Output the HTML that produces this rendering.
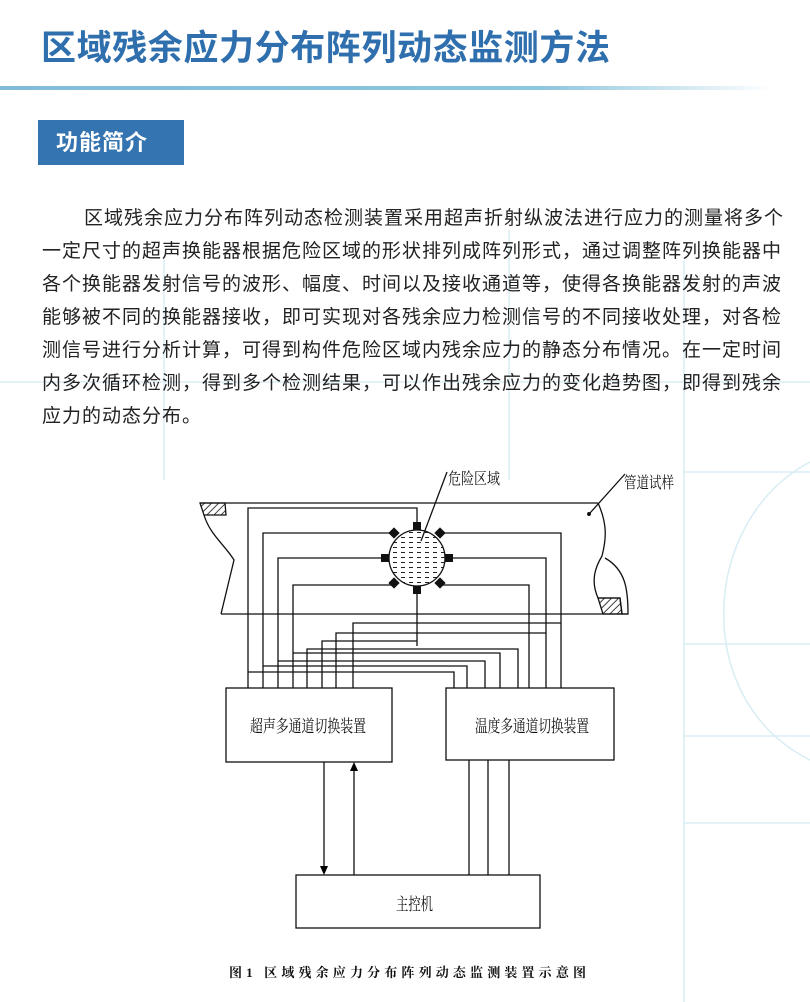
<!DOCTYPE html>
<html><head><meta charset="utf-8">
<style>
html,body{margin:0;padding:0;background:#fff;}
body{width:810px;height:1002px;position:relative;overflow:hidden;font-family:"Liberation Sans","Noto Sans CJK SC",sans-serif;}
.bg{position:absolute;left:0;top:0;}
.title{position:absolute;left:41px;top:27px;font-size:35px;font-weight:bold;color:#2f6fad;letter-spacing:0.6px;white-space:nowrap;line-height:44px;}
.rule{position:absolute;left:0;top:86px;width:775px;height:4px;background:linear-gradient(to right,#7fbcd8,#8ec6de 70%,rgba(200,230,240,0));}
.tag{position:absolute;left:38px;top:120px;width:146px;height:45px;background:#3474b0;color:#fff;font-size:22px;font-weight:bold;line-height:45px;text-indent:18px;letter-spacing:1px;}
.p{position:absolute;left:42px;top:202px;font-size:19px;letter-spacing:1px;color:#222;line-height:33px;white-space:nowrap;}
</style></head><body>
<svg class="bg" width="810" height="1002">
 <g stroke="#d8edf4" stroke-width="1.5" fill="none">
  <line x1="164" y1="260" x2="164" y2="480"/>
  <line x1="509" y1="230" x2="509" y2="480"/>
  <line x1="684" y1="260" x2="684" y2="1002"/>
  <line x1="0" y1="382" x2="810" y2="382"/>
  <line x1="684" y1="472" x2="810" y2="472"/>
  <line x1="684" y1="644" x2="810" y2="644"/>
  <line x1="684" y1="736" x2="810" y2="736"/>
  <line x1="684" y1="823" x2="810" y2="823"/>
  <path d="M810 462 C 700 520, 690 700, 810 760"/>
 </g>
</svg>
<div class="title">区域残余应力分布阵列动态监测方法</div>
<div class="rule"></div>
<div class="tag">功能简介</div>
<div class="p">
<div style="padding-left:42px">区域残余应力分布阵列动态检测装置采用超声折射纵波法进行应力的测量将多个</div>
<div>一定尺寸的超声换能器根据危险区域的形状排列成阵列形式，通过调整阵列换能器中</div>
<div>各个换能器发射信号的波形、幅度、时间以及接收通道等，使得各换能器发射的声波</div>
<div>能够被不同的换能器接收，即可实现对各残余应力检测信号的不同接收处理，对各检</div>
<div>测信号进行分析计算，可得到构件危险区域内残余应力的静态分布情况。在一定时间</div>
<div>内多次循环检测，得到多个检测结果，可以作出残余应力的变化趋势图，即得到残余</div>
<div>应力的动态分布。</div>
</div>
<svg class="bg" width="810" height="1002" style="font-family:'Liberation Serif','Noto Serif CJK SC',serif">
 <defs>
  <pattern id="h" width="5" height="5" patternUnits="userSpaceOnUse" patternTransform="rotate(45)"><line x1="0" y1="0" x2="0" y2="5" stroke="#000" stroke-width="1.5"/></pattern>
  <pattern id="d" width="8" height="5" patternUnits="userSpaceOnUse"><line x1="1" y1="2.5" x2="5" y2="2.5" stroke="#222" stroke-width="1"/></pattern>
 </defs>
 <g stroke="#111" stroke-width="1.3" fill="none">
  <line x1="200" y1="503" x2="598" y2="503"/>
  <line x1="221" y1="614" x2="628" y2="614"/>
  <path d="M200 503 L225 503 L226 515 L204 515 Z" fill="url(#h)"/>
  <path d="M204 515 C210 535,225 545,234 560 L221 614"/>
  <path d="M598 503 C608 525,606 540,602 556 C596 566,590 580,598 598 L620 598 L622 614 L628 614 C628 590,626 570,605 558"/>
  <path d="M598 598 L620 598 L622 614 L603 614 Z" fill="url(#h)"/>
  <line x1="447" y1="472" x2="421" y2="541"/>
  <line x1="625" y1="474" x2="590" y2="513"/>
  <circle cx="589" cy="514" r="1.3" fill="#000"/>
  <polyline points="417,526 417,508 248,508 248,688"/>
  <polyline points="393,533 263,533 263,688"/>
  <polyline points="384,558 278,558 278,688"/>
  <polyline points="393,585 293,585 293,688"/>
  <polyline points="441,533 561,533 561,688"/>
  <polyline points="450,558 546,558 546,688"/>
  <polyline points="441,585 529,585 529,688"/>
  <line x1="417" y1="590" x2="417" y2="646"/>
  <polyline points="353,688 353,623 561,623"/>
  <polyline points="336,688 336,633 546,633"/>
  <polyline points="322,688 322,641 417,641"/>
  <polyline points="307,688 307,649 518,649 518,688"/>
  <polyline points="293,653 500,653 500,688"/>
  <polyline points="278,661 485,661 485,688"/>
  <polyline points="263,666 467,666 467,688"/>
  <polyline points="248,672 454,672 454,688"/>
  <rect x="226" y="688" width="166" height="74"/>
  <rect x="446" y="688" width="168" height="72"/>
  <rect x="296" y="875" width="244" height="53"/>
  <line x1="324" y1="762" x2="324" y2="868"/>
  <line x1="354" y1="770" x2="354" y2="875"/>
  <line x1="469" y1="760" x2="469" y2="875"/>
  <line x1="488" y1="760" x2="488" y2="875"/>
  <line x1="509" y1="760" x2="509" y2="875"/>
 </g>
 <path d="M320 866 L328 866 L324 875 Z" fill="#000"/>
 <path d="M350 771 L358 771 L354 762 Z" fill="#000"/>
 <circle cx="417" cy="558" r="28" fill="url(#d)" stroke="#111" stroke-width="1.3"/>
 <g fill="#111">
  <rect x="413" y="522" width="8" height="8"/>
  <rect x="413" y="586" width="8" height="8"/>
  <rect x="381" y="554" width="8" height="8"/>
  <rect x="445" y="554" width="8" height="8"/>
  <rect x="390" y="529" width="8" height="8" transform="rotate(45 394 533)"/>
  <rect x="436" y="529" width="8" height="8" transform="rotate(45 440 533)"/>
  <rect x="390" y="579" width="8" height="8" transform="rotate(45 394 583)"/>
  <rect x="436" y="579" width="8" height="8" transform="rotate(45 440 583)"/>
 </g>
 <g fill="#111" font-size="16">
  <text x="448" y="484" textLength="52" lengthAdjust="spacingAndGlyphs">危险区域</text>
  <text x="624" y="488" textLength="50" lengthAdjust="spacingAndGlyphs">管道试样</text>
  <text x="250" y="732" font-size="17" textLength="116" lengthAdjust="spacingAndGlyphs">超声多通道切换装置</text>
  <text x="475" y="732" font-size="17" textLength="114" lengthAdjust="spacingAndGlyphs">温度多通道切换装置</text>
  <text x="396" y="910" font-size="17" textLength="37" lengthAdjust="spacingAndGlyphs">主控机</text>
  <text x="229" y="977" font-size="13" font-weight="bold" textLength="357">图1  区域残余应力分布阵列动态监测装置示意图</text>
 </g>
</svg>
</body></html>
